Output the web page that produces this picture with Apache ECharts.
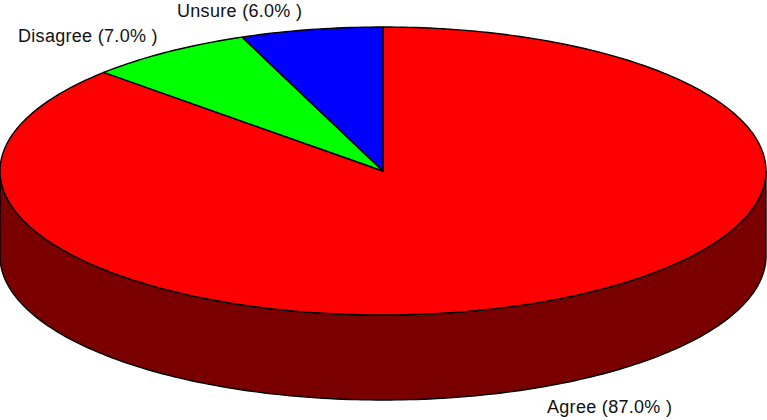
<!DOCTYPE html>
<html>
<head>
<meta charset="utf-8">
<style>html,body{margin:0;padding:0;background:#fff}#c{width:767px;height:420px}#c text{letter-spacing:0.3px}</style>
<script src="https://cdn.jsdelivr.net/npm/echarts@6/dist/echarts.min.js"></script>
</head>
<body>
<div id="c"></div>
<script>
var categories = ['Agree', 'Disagree', 'Unsure'];
var shares = [87.0, 7.0, 6.0];
var sliceColors = ['#ff0000', '#00ff00', '#0000ff'];
var sideColors = ['#7a0000', '#007a00', '#00007a'];
var labelLeft = [547, 18, 177];
var labelMid = [407, 36, 11];

var pie = {cx: 383, cy: 171, rx: 383, ry: 144, depth: 85};
var total = shares.reduce(function (a, b) { return a + b; }, 0);

function edge(deg, dy) {
  var t = deg * Math.PI / 180;
  return [pie.cx + pie.rx * Math.sin(t), pie.cy - pie.ry * Math.cos(t) + (dy || 0)];
}
function arc(from, to, dy) {
  var pts = [];
  var n = Math.max(1, Math.ceil(Math.abs(to - from)));
  for (var i = 0; i <= n; i++) pts.push(edge(from + (to - from) * i / n, dy));
  return pts;
}

function renderItem(params, api) {
  var i = params.dataIndex;
  var start = 0;
  for (var k = 0; k < i; k++) start += shares[k];
  var a0 = start / total * 360;
  var a1 = (start + api.value(0)) / total * 360;
  var children = [];

  var s0 = Math.max(a0, 90), s1 = Math.min(a1, 270);
  if (s1 > s0) {
    children.push({
      type: 'polygon',
      shape: {points: arc(s0, s1, 0).concat(arc(s1, s0, pie.depth))},
      style: {fill: sideColors[i], stroke: '#000', lineWidth: 1.4}
    });
  }
  children.push({
    type: 'polygon',
    shape: {points: [[pie.cx, pie.cy]].concat(arc(a0, a1, 0))},
    style: {fill: sliceColors[i], stroke: '#000', lineWidth: 1.4, lineJoin: 'round'}
  });
  children.push({
    type: 'text',
    style: {
      x: labelLeft[i], y: labelMid[i],
      text: categories[i] + ' (' + shares[i].toFixed(1) + '% )',
      fill: '#111', font: '18px "Liberation Sans", Arial, sans-serif',
      align: 'left', verticalAlign: 'middle'
    }
  });
  return {type: 'group', children: children};
}

var chart = echarts.init(document.getElementById('c'), null, {renderer: 'svg'});
chart.setOption({
  animation: false,
  backgroundColor: '#ffffff',
  series: [{
    type: 'custom',
    coordinateSystem: 'none',
    renderItem: renderItem,
    silent: true,
    clip: false,
    data: shares.map(function (v, i) { return {name: categories[i], value: [v]}; })
  }]
});
</script>
</body>
</html>
